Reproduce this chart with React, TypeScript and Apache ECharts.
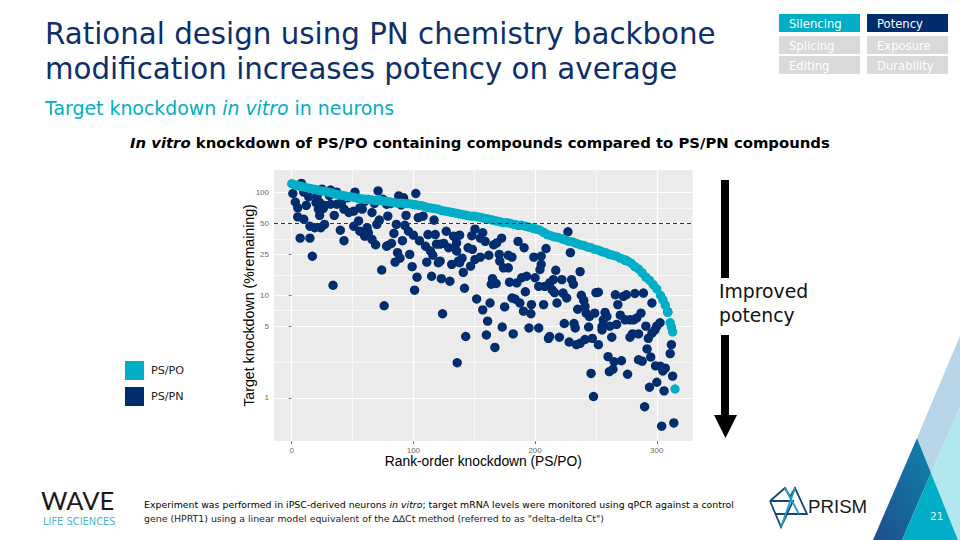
import React, { useEffect, useRef } from "react";
import * as echarts from "echarts";

const NAVY = "#012d6e";
const TEAL = "#00aec7";
const VERDANA = "'DejaVu Sans', Verdana, sans-serif";
const ARIAL = "'Liberation Sans', Arial, sans-serif";

const xTickLabels = [0, 100, 200, 300];
const xMinorTicks = [50, 150, 250];
const yTickLabels = [1, 5, 10, 25, 50, 100];
const yMinorTicks = [2.24, 7.07, 15.8, 35.4, 70.7];

const tealRanks = [0,3,6,9,12,15,18,21,24,27,30,33,36,39,42,45,48,51,54,57,60,63,66,69,72,75,78,81,84,87,90,93,96,99,102,105,108,111,114,117,120,123,126,129,132,135,138,141,144,147,150,153,156,159,162,165,168,171,174,177,180,183,186,189,192,195,198,201,204,207,210,213,216,219,222,225,228,231,234,237,240,243,246,249,252,255,258,261,264,267,270,273,276,279,282,285,288,291,294,297,300,303,305,307,309,311,312,313,315];
const tealValues = [122,119,116,114,112,110,108,106,104,103,101,99,97,95,94,92,91,90,88,87,86,86,85,84,84,83,82,81,80,79,79,78,78,77,76,75,74,72,71,70,69,67,66,65,64,63,62,61,60,59,59,58,57,56,55,54,53,52,51,51,50,49,48,48,47,46,45,44,43,41,39,38,37,36.5,35.5,34.5,33.5,33,32,31,30.5,29.5,29,28,27.5,26.5,26,25,24.5,24,23,22.3,21.5,20.5,19,18,16.5,15,14,12.7,11.5,10,9,8,6.8,5.4,4.9,4.4,1.22];

const navyPoints = [
[8,123],[1,98],[10,101],[3,81],[14,91],[5,71],[12,75],[5,58],[10,55],[15,47],[19,45.5],[24,45.5],[27,49],[7,36],[15,36],[17,24],[34,12.5],[21,93],[25,108],[32,106],[37,101],[31,94],[20,80],[23,80],[27,75],[22,69],[26,70],[23,60],[35,60],[32,77],[37,77],[41,80],[46,89],[52,101],[43,69],[47,64],[51,66],[56,71],[60,82],[58,69],[40,43],[43,34],[51,47],[55,53],[56,42],[62,45.5],[63,40.6],[60,37.7],[66,35],[69,31],[68,78.5],[66,64],[71,104],[75,86],[78,77],[81,78],[79,59],[72,54],[70,49],[86,49],[84,40],[93,48],[96,42],[100,38.5],[91,34],[94,60],[90,76],[88,93],[92,89],[102,98],[104,57],[108,59],[117,54],[105,34],[110,30],[112,39],[118,39],[114,27],[116,24.5],[122,31.5],[127,42],[133,37.7],[138,38.5],[79,30.5],[82,32],[78,30],[87,26],[89,23],[85,21],[97,25],[99,19],[103,15],[111,21],[115,15.3],[122,21.5],[120.5,20.7],[123,14.5],[130,13.7],[131.5,20],[138,20.7],[141,16.7],[142,11.7],[129,29],[134,29],[135.5,32.4],[125,32],[119,31.5],[140,23],[137,21.5],[145,29],[74,17.6],[101,11.2],[76,7.9],[124,6.6],[135.5,27],
[150.6,44],[148,38],[157,40.6],[155,36],[159,33.5],[172.5,36],[168.5,32.4],[166,31],[148.5,28],[186,33.5],[191,29],[155,23.5],[150.6,22.3],[147,19.2],[162,24.5],[170.6,25],[178,24.5],[181,23.5],[171,21.5],[174,18.5],[178,18.5],[199,23.5],[205,24],[209,28.5],[205,20],[204,17.8],[227,41.5],[229,26],[217,17.5],[237,17],[193,15.3],[189,14.8],[185,13.2],[179,13.4],[165,14.5],[164,12.8],[168,13],[200,14.8],[203,12.2],[208,12.2],[212,13.2],[215,14.2],[222,14.2],[230,14.2],[231.5,12.8],[214,11.3],[216,10.6],[223,10.5],[226,9.4],[218,8.4],[207,8.1],[192,10.8],[181,9.4],[183.5,9.2],[187.5,8.4],[197,8.1],[190.5,7],[196.6,6.6],[175,7.7],[163,8.4],[157,7.2],[152,9.2],[161,5.6],[173,4.9],[195,4.8],[203,4.8],[224,5.3],[232,5.3],[235,7.3],[238,10],[240,8.9],[241,7.8],[242,6.7],[244.6,6.2],[249,6.7],[257.5,6.8],[259,6.2],[256,5.76],[255,4.96],[252,10.7],[250,10.6],[266,10.1],[272.5,9.75],[275,10.1],[282,10.4],[289,10.5],[268,8.1],[296,8.4],[270,6.4],[274,5.76],[278,5.76],[281,5.76],[283.5,6],[287,6.7],[267,5.2],[261.5,5],[302.7,5.4],[300,5],[244,4.9],[291,5],
[160,4.1],[182,4.2],[167,3.1],[233,4.8],[255,4.6],[296,4.27],[293,3.8],[298.5,4.6],[211,3.8],[212,3.96],[220,3.9],[228,3.5],[234,3.3],[237,3.4],[241,3.7],[247,3.8],[252,3.3],[263,3.9],[278,3.9],[280,4.2],[285,4.2],[312,3.3],[311,2.7],[292,3],[295,2.5],[285,2.35],[288,2.28],[299,2.05],[303,2.03],[307,1.95],[305,1.83],[313,1.63],[300,1.42],[294,1.27],[306,1.17],[260,2.52],[265,2.25],[271,2.3],[264,1.9],[261,1.8],[276,1.7],[246,1.73],[248,1.03],[290,0.82],[304,0.53],[314,0.57],[143,3.96],[136,2.2],
];
const navyFrontPoints = [[274,22],[309,6.9]];

const boxes = [
  { label: "Silencing", x: 779, y: 14, fill: TEAL },
  { label: "Potency", x: 867, y: 14, fill: NAVY },
  { label: "Splicing", x: 779, y: 36, fill: "#d9d9d9" },
  { label: "Exposure", x: 867, y: 36, fill: "#d9d9d9" },
  { label: "Editing", x: 779, y: 56, fill: "#d9d9d9" },
  { label: "Durability", x: 867, y: 56, fill: "#d9d9d9" },
];

const txt = (x: number, y: number, text: string, fontSize: number, fill: string, fontFamily = VERDANA, extra: any = {}) => ({
  type: "text", x, y, silent: true,
  style: { text, fontSize, fill, fontFamily, textVerticalAlign: "middle", verticalAlign: "middle", ...extra },
});
const tri = (points: number[][], fill: any) => ({ type: "polygon", silent: true, shape: { points }, style: { fill } });
const stroke = (points: number[][], color: string) => ({ type: "polyline", silent: true, shape: { points }, style: { fill: "none", stroke: color, lineWidth: 1.8 } });

export default function App() {
  const ref = useRef<HTMLDivElement>(null);
  useEffect(() => {
    const chart = echarts.init(ref.current!, null, { renderer: "svg" });
    const fullY = { min: 0.38, max: 166, logBase: 10 };
    chart.setOption({
      animation: false,
      backgroundColor: "#ffffff",
      grid: { left: 274, right: 267.3, top: 170, bottom: 99, show: true, backgroundColor: "#ebebeb", borderWidth: 0 },
      legend: {
        data: ["PS/PO", "PS/PN"], orient: "vertical", left: 125, top: 361, padding: 0, itemWidth: 19, itemHeight: 19, itemGap: 7,
        icon: "rect", selectedMode: false,
        textStyle: { fontFamily: VERDANA, fontSize: 11.2, color: "#222222", padding: [0, 0, 0, 2] },
      },
      xAxis: [
        {
          type: "value", min: -14.5, max: 329.5,
          name: "Rank-order knockdown (PS/PO)", nameLocation: "middle", nameGap: 12, nameMoveOverlap: false,
          nameTextStyle: { fontFamily: ARIAL, fontSize: 13.8, color: "#000000", verticalAlign: "top", lineHeight: 16 },
          axisLine: { show: false },
          axisTick: { show: true, length: 3, lineStyle: { color: "#555555", width: 0.8 }, customValues: xTickLabels },
          axisLabel: { fontFamily: ARIAL, fontSize: 8, color: "#6a6a6a", margin: 5, customValues: xTickLabels },
          splitLine: { show: true, lineStyle: { color: "#ffffff", width: 1.2 } },
        },
        {
          type: "value", min: -14.5, max: 329.5, position: "bottom",
          axisLine: { show: false }, axisLabel: { show: false },
          axisTick: { show: false, customValues: xMinorTicks },
          splitLine: { show: true, lineStyle: { color: "#ffffff", width: 0.6 } },
        },
      ],
      yAxis: [
        {
          type: "log", ...fullY,
          name: "Target knockdown (%remaining)", nameLocation: "middle", nameGap: 18, nameMoveOverlap: false,
          nameTextStyle: { fontFamily: ARIAL, fontSize: 14.2, color: "#000000" },
          axisLine: { show: false },
          axisTick: { show: true, length: 3, lineStyle: { color: "#555555", width: 0.8 }, customValues: yTickLabels },
          axisLabel: {
            fontFamily: ARIAL, fontSize: 8, color: "#6a6a6a", margin: 5,
            customValues: yTickLabels,
            formatter: (v: number) => String(Math.round(v)),
          },
          splitLine: { show: true, lineStyle: { color: "#ffffff", width: 1.2 } },
        },
        {
          type: "log", ...fullY, position: "left",
          axisLine: { show: false }, axisLabel: { show: false },
          axisTick: { show: false, customValues: yMinorTicks },
          splitLine: { show: true, lineStyle: { color: "#ffffff", width: 0.6 } },
        },
      ],
      series: [
        {
          name: "PS/PN", type: "scatter", data: navyPoints, symbolSize: 9.4, z: 3, silent: true,
          itemStyle: { color: NAVY, opacity: 1 },
        },
        {
          name: "PS/PO", type: "scatter", data: tealRanks.map((r, i) => [r, tealValues[i]]), symbolSize: 9.4, z: 4, silent: true,
          itemStyle: { color: TEAL, opacity: 1 },
          markLine: {
            silent: true, symbol: "none", label: { show: false }, z: 5,
            lineStyle: { color: "#333333", type: [4, 3], width: 1.2 },
            data: [{ yAxis: 50 }],
          },
        },
        {
          name: "PS/PN", type: "scatter", data: navyFrontPoints, symbolSize: 9.4, z: 3.5, silent: true,
          itemStyle: { color: NAVY, opacity: 1 },
        },
      ],
      graphic: [
        txt(45, 34, "Rational design using PN chemistry backbone", 29.3, "#0e2f6b"),
        txt(45, 69, "modification increases potency on average", 29.3, "#0e2f6b"),
        {
          type: "text", x: 45, y: 108, silent: true,
          style: {
            text: "{a|Target knockdown }{b|in vitro}{a| in neurons}", verticalAlign: "middle",
            rich: {
              a: { fontFamily: VERDANA, fontSize: 18.9, fill: TEAL, color: TEAL },
              b: { fontFamily: VERDANA, fontSize: 18.9, fontStyle: "italic", fill: TEAL, color: TEAL },
            },
          },
        },
        {
          type: "text", x: 130, y: 143, silent: true,
          style: {
            text: "{b|In vitro}{a| knockdown of PS/PO containing compounds compared to PS/PN compounds}", verticalAlign: "middle",
            rich: {
              a: { fontFamily: VERDANA, fontSize: 14.85, fontWeight: "bold", color: "#111111" },
              b: { fontFamily: VERDANA, fontSize: 14.85, fontWeight: "bold", fontStyle: "italic", color: "#111111" },
            },
          },
        },
        ...boxes.flatMap((b) => [
          { type: "rect", silent: true, shape: { x: b.x, y: b.y, width: 81, height: 18 }, style: { fill: b.fill } },
          txt(b.x + 10, b.y + 9.5, b.label, 11.6, "#ffffff"),
        ]),
        { type: "rect", silent: true, shape: { x: 721, y: 180, width: 8, height: 98 }, style: { fill: "#000000" } },
        { type: "rect", silent: true, shape: { x: 721, y: 335, width: 8, height: 82 }, style: { fill: "#000000" } },
        tri([[714, 415], [737, 415], [725.5, 438]], "#000000"),
        txt(719, 291, "Improved", 18.8, "#111111"),
        txt(719, 315, "potency", 18.8, "#111111"),
        {
          type: "text", x: 144, y: 504, silent: true,
          style: {
            text: "{a|Experiment was performed in iPSC-derived neurons }{b|in vitro}{a|; target mRNA levels were monitored using qPCR against a control}", verticalAlign: "middle",
            rich: {
              a: { fontFamily: VERDANA, fontSize: 9.4, color: "#222222" },
              b: { fontFamily: VERDANA, fontSize: 9.4, fontStyle: "italic", color: "#222222" },
            },
          },
        },
        txt(144, 518, 'gene (HPRT1) using a linear model equivalent of the ∆∆Ct method (referred to as "delta-delta Ct")', 9.4, "#222222"),
        txt(41, 500, "WAVE", 25.5, "#1a1a1a", "Lato"),
        txt(43, 521, "LIFE SCIENCES", 9.9, "#4db5cc"),
        tri([[960, 336], [917, 438], [931, 473], [960, 407]], "#b7d5e6"),
        tri([[960, 407], [931, 473], [958, 540], [960, 540]], "#b3e7ef"),
        tri([[917, 438], [873, 540], [902, 540], [931, 473]], new echarts.graphic.LinearGradient(0, 1, 1, 0, [{ offset: 0, color: "#1f4c90" }, { offset: 1, color: "#0d84ad" }])),
        tri([[931, 473], [902, 540], [958, 540]], TEAL),
        txt(930, 516, "21", 10.5, "#e8f8fb"),
        stroke([[770, 501], [785, 488], [790, 497], [795, 488], [807, 514], [775, 514]], "#15477f"),
        stroke([[770, 501], [793, 501], [781, 527], [770, 501]], "#15477f"),
        stroke([[785, 488], [799, 514]], "#1c9fc0"),
        stroke([[795, 488], [781, 527]], "#1c9fc0"),
        txt(808, 506, "PRISM", 18.7, "#1a1a1a", ARIAL),
      ],
    });
    return () => chart.dispose();
  }, []);
  return <div ref={ref} style={{ position: "fixed", left: 0, top: 0, width: 960, height: 540 }} />;
}
